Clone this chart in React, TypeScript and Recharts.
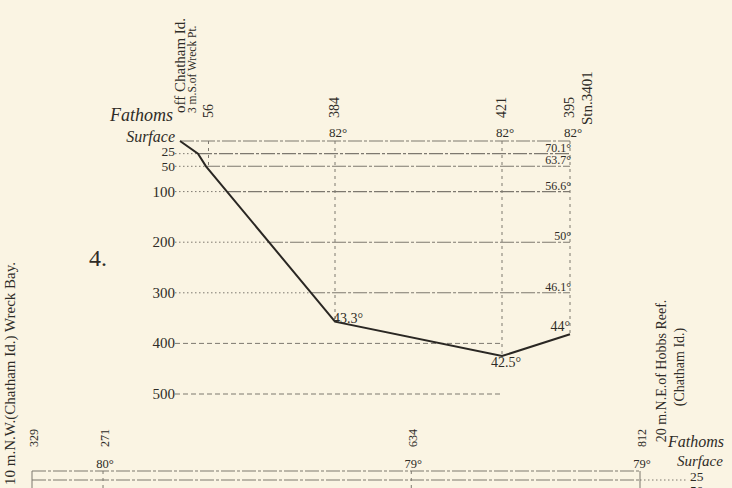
import React from 'react';
import { ComposedChart, Line, XAxis, YAxis, ReferenceLine, ReferenceDot } from 'recharts';

const SERIF = "'Liberation Serif', 'DejaVu Serif', 'Times New Roman', serif";
const INK = '#2f2c27';
const RULE = '#7d786f';
const PAPER = '#faf4e3';

// ---------- Upper section (No. 4): off Chatham Id. -> Stn. 3401 ----------
const topStationNames = ['56', '384', '421', '395'];
const topStationMiles = [5.7, 31, 64.4, 78];
const topSurfaceTemps = ['', '82°', '82°', '82°'];
const topBottomTemps = ['', '43.3°', '42.5°', '44°'];
const profileMiles = [0, 3.6, 5.2, 31, 64.4, 78];
const profileFathoms = [0, 25, 50, 357, 425, 382];
const depthTicks = [0, 25, 50, 100, 200, 300, 400, 500];
const depthTickLabels = ['Surface', '25', '50', '100', '200', '300', '400', '500'];
const stn3401Temps = ['', '70.1°', '63.7°', '56.6°', '50°', '46.1°', '', ''];

// ---------- Lower section: Wreck Bay -> Hobbs Reef ----------
const lowStationNames = ['329', '271', '634', '812'];
const lowStationMiles = [0, 10, 53.4, 85.6];
const lowStationFathoms = [329, 271, 634, 812];
const lowSurfaceTemps = ['', '80°', '79°', '79°'];
const lowDepthTicks = [0, 25, 50];
const lowDepthTickLabels = ['Surface', '25', '50'];

const profile = profileMiles.map((mi, i) => ({ mi, depth: profileFathoms[i] }));
const lowProfile = lowStationMiles.map((mi, i) => ({ mi, depth: lowStationFathoms[i] }));

const TOP_X0 = -1;
const TOP_X1 = topStationMiles[topStationMiles.length - 1];
const LOW_X1 = lowStationMiles[lowStationMiles.length - 1];

function depthAt(mi: number): number {
  for (let i = 1; i < profileMiles.length; i++) {
    const a = profileMiles[i - 1];
    const b = profileMiles[i];
    if (mi <= b) {
      const t = (mi - a) / (b - a || 1);
      return profileFathoms[i - 1] + t * (profileFathoms[i] - profileFathoms[i - 1]);
    }
  }
  return profileFathoms[profileFathoms.length - 1];
}

function slopeCrossing(d: number): number {
  for (let i = 1; i < profileMiles.length; i++) {
    const d0 = profileFathoms[i - 1];
    const d1 = profileFathoms[i];
    if (d >= d0 && d <= d1) {
      const t = (d - d0) / (d1 - d0 || 1);
      return profileMiles[i - 1] + t * (profileMiles[i] - profileMiles[i - 1]);
    }
  }
  return TOP_X1;
}

function VText(props: { x: number; y: number; size: number; anchor?: string; children: any; weight?: number }) {
  const { x, y, size, anchor = 'start', children, weight = 400 } = props;
  return (
    <text
      x={x}
      y={y}
      transform={`rotate(-90 ${x} ${y})`}
      textAnchor={anchor as any}
      fontFamily={SERIF}
      fontSize={size}
      fontWeight={weight}
      fill={INK}
    >
      {children}
    </text>
  );
}

function mark(key: string, x: number, y: number, render: (cx: number, cy: number) => any) {
  return (
    <ReferenceDot
      key={key}
      x={x}
      y={y}
      r={0}
      ifOverflow="visible"
      shape={(p: any) => render(p.cx, p.cy)}
    />
  );
}

const ISO_DASH = '14 2 3 2';

export default function App() {
  const topLines = depthTicks.flatMap((d) => {
    if (d > 300) {
      return [
        <ReferenceLine
          key={'deep' + d}
          segment={[{ x: TOP_X0, y: d }, { x: topStationMiles[2], y: d }]}
          stroke={RULE}
          strokeDasharray="5 3"
          ifOverflow="visible"
        />,
      ];
    }
    const cx = slopeCrossing(d);
    const out: any[] = [];
    if (d > 0) {
      out.push(
        <ReferenceLine
          key={'lead' + d}
          segment={[{ x: TOP_X0, y: d }, { x: cx, y: d }]}
          stroke={RULE}
          strokeDasharray="1.5 2.5"
          ifOverflow="visible"
        />
      );
    }
    out.push(
      <ReferenceLine
        key={'iso' + d}
        segment={[{ x: cx, y: d }, { x: TOP_X1, y: d }]}
        stroke={RULE}
        strokeWidth={1.1}
        strokeDasharray={ISO_DASH}
        ifOverflow="visible"
      />
    );
    return out;
  });

  const topVerticals = topStationMiles.map((m, i) => (
    <ReferenceLine
      key={'v' + i}
      segment={[{ x: m, y: 0 }, { x: m, y: Math.min(depthAt(m), i === 0 ? 50 : 9999) }]}
      stroke={RULE}
      strokeDasharray="3 4"
      ifOverflow="visible"
    />
  ));

  const topMarks: any[] = [];
  // depth scale labels
  depthTicks.forEach((d, i) => {
    const shallow = d > 0 && d <= 50;
    topMarks.push(
      mark('dl' + i, TOP_X0, d, (cx, cy) =>
        d === 0 ? (
          <text x={cx} y={cy + 1} textAnchor="end" fontFamily={SERIF} fontStyle="italic" fontSize={16} fill={INK}>
            {depthTickLabels[i]}
          </text>
        ) : (
          <text
            x={cx}
            y={shallow ? (d === 25 ? cy + 2 : cy + 5) : cy + 5}
            textAnchor="end"
            fontFamily={SERIF}
            fontSize={shallow ? 13.5 : 15}
            fill={INK}
          >
            {depthTickLabels[i]}
          </text>
        )
      )
    );
  });
  topStationMiles.forEach((m, i) => {
    topMarks.push(
      mark('sn' + i, m, 0, (cx, cy) => (
        <VText x={cx + 4} y={cy - 23} size={14}>
          {topStationNames[i]}
        </VText>
      ))
    );
    if (topSurfaceTemps[i]) {
      topMarks.push(
        mark('st' + i, m, 0, (cx, cy) => (
          <text x={cx + 3} y={cy - 4} textAnchor="middle" fontFamily={SERIF} fontSize={13} fill={INK}>
            {topSurfaceTemps[i]}
          </text>
        ))
      );
    }
  });
  // bottom temperatures
  topMarks.push(
    mark('bt1', topStationMiles[1], depthAt(topStationMiles[1]), (cx, cy) => (
      <text x={cx - 2} y={cy + 1} textAnchor="start" fontFamily={SERIF} fontSize={14} fill={INK}>
        {topBottomTemps[1]}
      </text>
    ))
  );
  topMarks.push(
    mark('bt2', topStationMiles[2], depthAt(topStationMiles[2]), (cx, cy) => (
      <text x={cx + 4} y={cy + 11} textAnchor="middle" fontFamily={SERIF} fontSize={14} fill={INK}>
        {topBottomTemps[2]}
      </text>
    ))
  );
  topMarks.push(
    mark('bt3', topStationMiles[3], depthAt(topStationMiles[3]), (cx, cy) => (
      <text x={cx} y={cy - 3} textAnchor="end" fontFamily={SERIF} fontSize={14} fill={INK}>
        {topBottomTemps[3]}
      </text>
    ))
  );
  // Stn. 3401 serial temperatures
  depthTicks.forEach((d, i) => {
    if (!stn3401Temps[i]) return;
    topMarks.push(
      mark('t3401' + i, TOP_X1, d, (cx, cy) => (
        <text x={cx + 1} y={cy - 2} textAnchor="end" fontFamily={SERIF} fontSize={12} fill={INK}>
          {stn3401Temps[i]}
        </text>
      ))
    );
  });
  // captions tied to positions
  topMarks.push(
    mark('cap0', 0, 0, (cx, cy) => (
      <g>
        <VText x={cx + 5} y={cy - 28} size={15}>off Chatham Id.</VText>
        <VText x={cx + 16} y={cy - 28} size={11.5}>3 m.S.of Wreck Pt.</VText>
      </g>
    ))
  );
  topMarks.push(
    mark('cap3401', TOP_X1, 0, (cx, cy) => (
      <VText x={cx + 22} y={cy - 16} size={15}>Stn.3401</VText>
    ))
  );

  // lower section
  const lowLines = lowDepthTicks.flatMap((d) => {
    const out: any[] = [];
    if (d < 50) {
      out.push(
        <ReferenceLine
          key={'liso' + d}
          segment={[{ x: 0, y: d }, { x: LOW_X1, y: d }]}
          stroke={RULE}
          strokeWidth={1.1}
          strokeDasharray={ISO_DASH}
          ifOverflow="visible"
        />
      );
    }
    if (d > 0) {
      out.push(
        <ReferenceLine
          key={'llead' + d}
          segment={[{ x: LOW_X1, y: d }, { x: LOW_X1 * 1.078, y: d }]}
          stroke={RULE}
          strokeDasharray="1.5 2.5"
          ifOverflow="visible"
        />
      );
    }
    return out;
  });

  const lowVerticals = lowStationMiles.map((m, i) => {
    const edge = i === 0 || i === lowStationMiles.length - 1;
    return (
      <ReferenceLine
        key={'lv' + i}
        segment={[{ x: m, y: 0 }, { x: m, y: lowStationFathoms[i] }]}
        stroke={RULE}
        strokeDasharray={edge ? undefined : '3 4'}
        ifOverflow="visible"
      />
    );
  });

  const lowMarks: any[] = [];
  lowDepthTicks.forEach((d, i) => {
    lowMarks.push(
      mark('ldl' + i, LOW_X1, d, (cx, cy) =>
        d === 0 ? (
          <text x={cx + 37} y={cy - 5} textAnchor="start" fontFamily={SERIF} fontStyle="italic" fontSize={15} fill={INK}>
            {lowDepthTickLabels[i]}
          </text>
        ) : (
          <text
            x={cx + 50}
            y={d === 25 ? cy + 1 : cy + 6}
            textAnchor="start"
            fontFamily={SERIF}
            fontSize={13.5}
            fill={INK}
          >
            {lowDepthTickLabels[i]}
          </text>
        )
      )
    );
  });
  lowStationMiles.forEach((m, i) => {
    lowMarks.push(
      mark('ln' + i, m, 0, (cx, cy) => (
        <VText x={cx + 6} y={cy - 24} size={12}>
          {lowStationNames[i]}
        </VText>
      ))
    );
    if (lowSurfaceTemps[i]) {
      lowMarks.push(
        mark('lt' + i, m, 0, (cx, cy) => (
          <text x={cx + 2} y={cy - 3} textAnchor="middle" fontFamily={SERIF} fontSize={12.5} fill={INK}>
            {lowSurfaceTemps[i]}
          </text>
        ))
      );
    }
  });

  return (
    <div
      style={{
        position: 'absolute',
        left: 0,
        top: 0,
        width: 732,
        height: 488,
        overflow: 'hidden',
        background: PAPER,
      }}
    >
      <div style={{ position: 'absolute', left: 0, top: 0 }}>
        <ComposedChart
          width={732}
          height={488}
          data={profile}
          margin={{ top: 141, right: 162, bottom: 94, left: 175 }}
        >
          <XAxis type="number" dataKey="mi" domain={[TOP_X0, TOP_X1]} hide />
          <YAxis type="number" domain={[0, 500]} reversed hide />
          {topLines}
          {topVerticals}
          <Line
            dataKey="depth"
            type="linear"
            stroke="#2a2723"
            strokeWidth={2}
            dot={false}
            activeDot={false}
            isAnimationActive={false}
          />
          {topMarks}
        </ComposedChart>
      </div>

      <div style={{ position: 'absolute', left: 0, top: 0 }}>
        <ComposedChart
          width={732}
          height={800}
          data={lowProfile}
          margin={{ top: 471, right: 92, bottom: 5, left: 32 }}
        >
          <XAxis type="number" dataKey="mi" domain={[0, LOW_X1]} hide />
          <YAxis type="number" domain={[0, 900]} reversed hide />
          {lowLines}
          {lowVerticals}
          <Line
            dataKey="depth"
            type="linear"
            stroke="#2a2723"
            strokeWidth={2}
            dot={false}
            activeDot={false}
            isAnimationActive={false}
          />
          {lowMarks}
        </ComposedChart>
      </div>

      <svg
        width={732}
        height={488}
        style={{ position: 'absolute', left: 0, top: 0, pointerEvents: 'none' }}
      >
        <text x={173} y={121} textAnchor="end" fontFamily={SERIF} fontStyle="italic" fontSize={18} fill={INK}>
          Fathoms
        </text>
        <text x={89} y={266} fontFamily={SERIF} fontSize={24} fill={INK}>
          4.
        </text>
        <VText x={15} y={262} size={15} anchor="end">
          10 m.N.W.(Chatham Id.) Wreck Bay.
        </VText>
        <VText x={666} y={371} size={14} anchor="middle">
          20 m.N.E.of Hobbs Reef.
        </VText>
        <VText x={684} y={367} size={14} anchor="middle">
          (Chatham Id.)
        </VText>
        <text x={668} y={447} fontFamily={SERIF} fontStyle="italic" fontSize={16} fill={INK}>
          Fathoms
        </text>
      </svg>
    </div>
  );
}
